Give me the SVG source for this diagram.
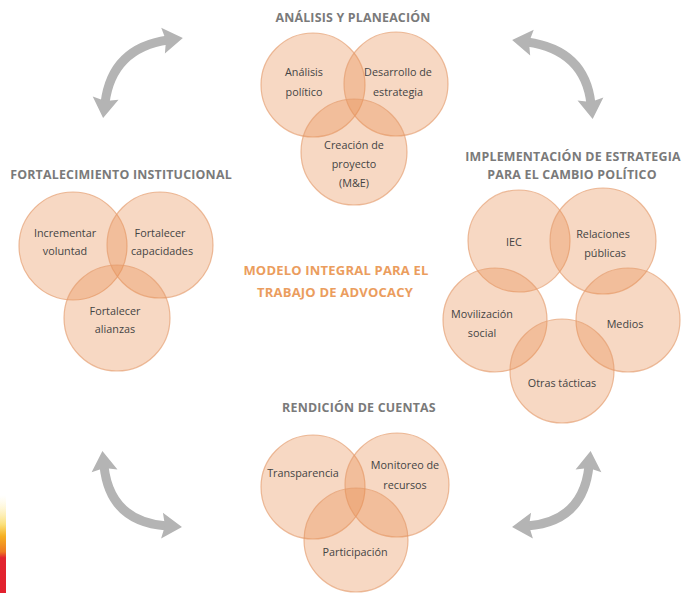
<svg xmlns="http://www.w3.org/2000/svg" width="686" height="593" viewBox="0 0 686 593">
<defs>
<style>
.c{fill:#e88c50;fill-opacity:0.34;stroke:#e3996a;stroke-opacity:0.65;stroke-width:1.2}
.t{font-family:"Open Sans","Liberation Sans",sans-serif;font-size:10.8px;fill:#444444;text-anchor:middle}
.h{font-family:"Open Sans","Liberation Sans",sans-serif;font-size:12.4px;font-weight:bold;fill:#7a7a7a;text-anchor:middle;letter-spacing:0.2px}
.m{font-family:"Open Sans","Liberation Sans",sans-serif;font-size:13px;font-weight:bold;fill:#eb9d5e;text-anchor:middle;letter-spacing:0.2px}
.a{fill:none;stroke:#b4b4b4;stroke-width:9;marker-start:url(#ah);marker-end:url(#ah)}
</style>
<marker id="ah" viewBox="-6 -15 24 30" refX="0" refY="0" markerWidth="24" markerHeight="30" markerUnits="userSpaceOnUse" orient="auto-start-reverse">
<path d="M-5,-13 L15,0 L-5,13 L-2,0 Z" fill="#b4b4b4"/>
</marker>
<linearGradient id="lg" x1="0" y1="0" x2="0" y2="1">
<stop offset="0" stop-color="#fff6c8" stop-opacity="0"/>
<stop offset="0.3" stop-color="#fbe07a"/>
<stop offset="0.42" stop-color="#f6b021"/>
<stop offset="0.58" stop-color="#ee7a22"/>
<stop offset="0.64" stop-color="#e2252f"/>
<stop offset="1" stop-color="#e2202e"/>
</linearGradient>
</defs>
<rect width="686" height="593" fill="#ffffff"/>
<rect x="0" y="495" width="6" height="98" fill="url(#lg)"/>

<g id="connectors">
<path class="a" d="M 168 40 Q 112 48 105 103"/>
<path class="a" d="M 527 42 Q 585 50 591 104"/>
<path class="a" d="M 104 466 Q 110 522 167 526"/>
<path class="a" d="M 589 466 Q 583 522 527 526"/>
</g>

<g id="analisis-planeacion">
<text class="h" x="353" y="22">ANÁLISIS Y PLANEACIÓN</text>
<g id="analisis-politico"><circle class="c" cx="313" cy="85" r="52"/></g>
<g id="desarrollo-estrategia"><circle class="c" cx="396" cy="84" r="52"/></g>
<g id="creacion-proyecto"><circle class="c" cx="354" cy="152" r="53"/></g>
<text class="t" x="304" y="76">Análisis</text>
<text class="t" x="304" y="96">político</text>
<text class="t" x="398" y="76">Desarrollo de</text>
<text class="t" x="398" y="96">estrategia</text>
<text class="t" x="354" y="149">Creación de</text>
<text class="t" x="354" y="168">proyecto</text>
<text class="t" x="354" y="187">(M&amp;E)</text>
</g>

<g id="fortalecimiento">
<text class="h" x="121" y="179">FORTALECIMIENTO INSTITUCIONAL</text>
<g id="incrementar-voluntad"><circle class="c" cx="73" cy="246" r="54"/></g>
<g id="fortalecer-capacidades"><circle class="c" cx="160" cy="245" r="53"/></g>
<g id="fortalecer-alianzas"><circle class="c" cx="117" cy="318" r="53"/></g>
<text class="t" x="65" y="237">Incrementar</text>
<text class="t" x="65" y="255">voluntad</text>
<text class="t" x="160" y="237">Fortalecer</text>
<text class="t" x="162" y="255">capacidades</text>
<text class="t" x="115" y="315">Fortalecer</text>
<text class="t" x="115" y="333">alianzas</text>
</g>

<g id="implementacion">
<text class="h" x="573" y="161">IMPLEMENTACIÓN DE ESTRATEGIA</text>
<text class="h" x="572" y="179">PARA EL CAMBIO POLÍTICO</text>
<g id="iec"><circle class="c" cx="519" cy="241" r="51"/></g>
<g id="relaciones-publicas"><circle class="c" cx="603" cy="241" r="53"/></g>
<g id="movilizacion-social"><circle class="c" cx="495" cy="320" r="52"/></g>
<g id="medios"><circle class="c" cx="628" cy="320" r="52"/></g>
<g id="otras-tacticas"><circle class="c" cx="562" cy="371" r="52"/></g>
<text class="t" x="514" y="246">IEC</text>
<text class="t" x="603" y="238">Relaciones</text>
<text class="t" x="605" y="257">públicas</text>
<text class="t" x="482" y="318">Movilización</text>
<text class="t" x="482" y="337">social</text>
<text class="t" x="625" y="328">Medios</text>
<text class="t" x="562" y="387">Otras tácticas</text>
</g>

<g id="rendicion">
<text class="h" x="359" y="412">RENDICIÓN DE CUENTAS</text>
<g id="transparencia"><circle class="c" cx="313" cy="487" r="52"/></g>
<g id="monitoreo"><circle class="c" cx="397" cy="485" r="52"/></g>
<g id="participacion"><circle class="c" cx="356" cy="540" r="52"/></g>
<text class="t" x="303" y="477">Transparencia</text>
<text class="t" x="405" y="469">Monitoreo de</text>
<text class="t" x="405" y="489">recursos</text>
<text class="t" x="355" y="556">Participación</text>
</g>

<g id="modelo">
<text class="m" x="336" y="275">MODELO INTEGRAL PARA EL</text>
<text class="m" x="335" y="297">TRABAJO DE ADVOCACY</text>
</g>
</svg>
